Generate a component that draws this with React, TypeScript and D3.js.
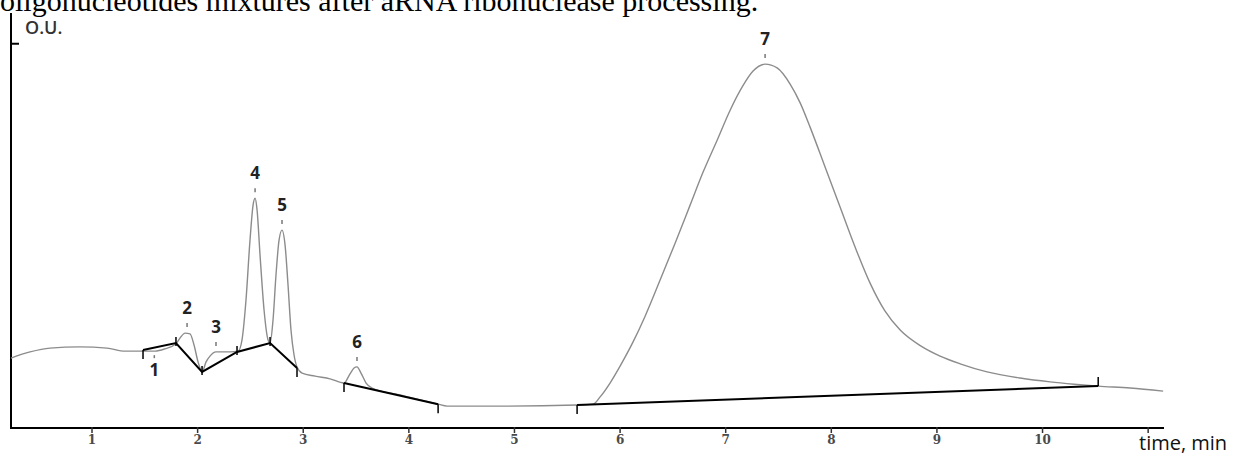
import * as d3 from 'd3';

const W = 1234;
const H = 456;

const title = 'oligonucleotides mixtures after aRNA ribonuclease processing.';
const yUnit = 'O.U.';
const xUnit = 'time, min';

// chromatogram trace (time in min, signal in arbitrary optical units)
const timeMin = [
  0.233, 0.413, 0.602, 0.886, 1.142, 1.313, 1.483, 1.597, 1.691, 1.795,
  1.833, 1.881, 1.928, 1.966, 2.004, 2.042, 2.08, 2.117, 2.174, 2.307,
  2.383, 2.42, 2.458, 2.496, 2.525, 2.544, 2.563, 2.591, 2.629, 2.667,
  2.686, 2.714, 2.742, 2.771, 2.799, 2.828, 2.856, 2.884, 2.913, 2.941,
  2.989, 3.112, 3.254, 3.386, 3.443, 3.481, 3.509, 3.547, 3.595, 3.652,
  3.917, 4.277, 4.362, 4.864, 5.593, 5.744, 5.811, 5.905, 6.0, 6.123,
  6.237, 6.379, 6.521, 6.663, 6.786, 6.919, 7.042, 7.155, 7.259, 7.373,
  7.487, 7.61, 7.705, 7.799, 7.941, 8.083, 8.225, 8.367, 8.509, 8.652,
  8.85, 9.03, 9.22, 9.475, 9.788, 10.072, 10.299, 10.527, 10.83, 11.142,
];
const signal = [
  18.2, 19.8, 20.8, 21.1, 20.8, 20.0, 20.0, 20.0, 20.6, 21.9,
  23.4, 24.7, 24.5, 21.6, 17.2, 14.6, 17.2, 18.7, 19.8, 19.8,
  20.0, 22.9, 33.3, 48.9, 58.0, 59.8, 56.7, 45.0, 30.7, 22.9,
  22.1, 28.1, 39.8, 48.9, 51.5, 47.6, 37.2, 25.5, 19.0, 15.9,
  14.3, 13.5, 12.8, 11.7, 14.1, 15.6, 15.9, 14.3, 11.7, 10.4,
  8.6, 6.2, 5.7, 5.7, 6.0, 6.2, 8.1, 11.7, 16.1, 22.4,
  29.1, 38.5, 48.1, 58.0, 66.6, 74.9, 82.7, 88.7, 92.9, 94.7,
  93.7, 89.5, 84.6, 78.3, 67.9, 57.5, 47.1, 37.7, 30.4, 25.5,
  21.3, 18.7, 16.7, 14.6, 13.0, 12.0, 11.4, 10.9, 10.4, 9.6,
];

// integration baselines
const baselineTimes = [
  [1.483, 1.795, 2.042, 2.373, 2.686, 2.941],
  [3.386, 4.277],
  [5.593, 10.527],
];
const baselineValues = [
  [20.3, 22.1, 14.6, 19.8, 22.1, 15.6],
  [11.7, 6.2],
  [6.0, 10.9],
];

// peak apex marks
const peakNames = ['1', '2', '3', '4', '5', '6', '7'];
const peakTimes = [1.59, 1.9, 2.174, 2.544, 2.799, 3.509, 7.373];
const peakHeights = [20.0, 24.7, 19.8, 59.8, 51.5, 15.9, 94.7];

const xTicks = [1, 2, 3, 4, 5, 6, 7, 8, 9, 10, 11];
const xTickLabels = ['1', '2', '3', '4', '5', '6', '7', '8', '9', '10', ''];
const yTicks = [100];

export default function App() {
  const x = d3.scaleLinear().domain([0.233, 11.15]).range([11, 1164]);
  const y = d3.scaleLinear().domain([0, 108]).range([428, 13]);

  const trace = d3
    .line<number>()
    .x((_, i) => x(timeMin[i]))
    .y((d) => y(d))
    .curve(d3.curveMonotoneX)(signal);

  const baseLine = d3
    .line<[number, number]>()
    .x((d) => x(d[0]))
    .y((d) => y(d[1]));

  const [x0, x1] = x.range();
  const [yBottom, yTop] = y.range();

  return (
    <svg
      width={W}
      height={H}
      style={{ position: 'absolute', left: 0, top: 0, background: '#fff' }}
    >
      {/* caption line above the figure, cut by the top edge as in the scan */}
      <text x={0} y={11} fontFamily="'Liberation Serif', serif" fontSize={30} fill="#000">
        {title}
      </text>

      {/* axes */}
      <line x1={x0} y1={yBottom} x2={x0} y2={yTop} stroke="#000" strokeWidth={2} />
      <line x1={x0 - 1} y1={yBottom} x2={x1} y2={yBottom} stroke="#000" strokeWidth={2} />
      {yTicks.map((t) => (
        <line key={t} x1={x0} x2={x0 + 8} y1={y(t)} y2={y(t)} stroke="#000" strokeWidth={2} />
      ))}
      <text
        x={25}
        y={34}
        fontFamily="'Open Sans', sans-serif"
        fontWeight={600}
        fontSize={18}
        fill="#333"
      >
        {yUnit}
      </text>

      {xTicks.map((t, i) => (
        <g key={t} transform={`translate(${x(t)},${yBottom})`}>
          <line y1={-1} y2={5} stroke="#333" strokeWidth={1.5} />
          <text
            y={16}
            textAnchor="middle"
            fontFamily="'DejaVu Serif', serif"
            fontWeight="bold"
            fontSize={12}
            fill="#4a4a4a"
          >
            {xTickLabels[i]}
          </text>
        </g>
      ))}
      <text x={1139} y={450} fontFamily="'Open Sans', sans-serif" fontSize={20} fill="#111">
        {xUnit}
      </text>

      {/* signal trace */}
      <path d={trace ?? ''} fill="none" stroke="#8c8c8c" strokeWidth={1.4} />

      {/* integration baselines with their markers */}
      {baselineTimes.map((ts, s) => {
        const pts = ts.map((t, i) => [t, baselineValues[s][i]] as [number, number]);
        return (
          <g key={s}>
            <path d={baseLine(pts) ?? ''} fill="none" stroke="#000" strokeWidth={2} />
            {pts.map(([t, v], i) => {
              const last = s === baselineTimes.length - 1 && i === pts.length - 1;
              const edge = i === 0 || i === pts.length - 1;
              const top = last ? y(v) - 9 : edge ? y(v) : y(v) - 6;
              return (
                <line
                  key={i}
                  x1={x(t)}
                  x2={x(t)}
                  y1={top}
                  y2={top + 9}
                  stroke="#000"
                  strokeWidth={1.5}
                />
              );
            })}
          </g>
        );
      })}

      {/* peak numbers */}
      {peakNames.map((name, i) => {
        const px = x(peakTimes[i]);
        const py = y(peakHeights[i]);
        const below = i === 0;
        return (
          <g key={name}>
            <line
              x1={px}
              x2={px}
              y1={below ? py + 4 : py - 10}
              y2={below ? py + 7 : py - 6}
              stroke="#777"
              strokeWidth={1.5}
            />
            <text
              x={px}
              y={below ? py + 25 : py - 19}
              textAnchor="middle"
              fontFamily="'Open Sans', sans-serif"
              fontWeight="bold"
              fontSize={17}
              fill="#222"
            >
              {name}
            </text>
          </g>
        );
      })}
    </svg>
  );
}
